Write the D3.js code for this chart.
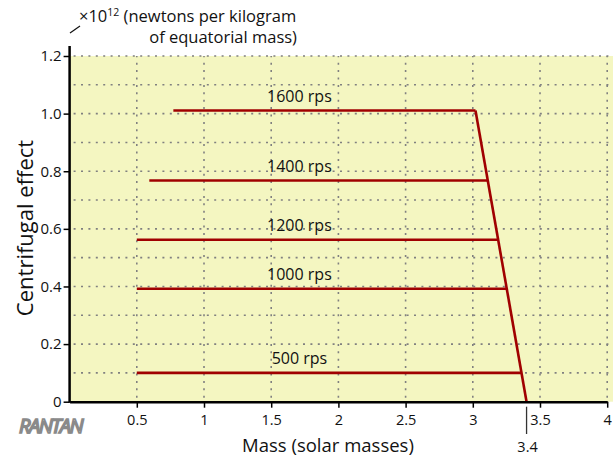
<!DOCTYPE html>
<html>
<head>
<meta charset="utf-8">
<script src="https://cdn.jsdelivr.net/npm/d3@7"></script>
<style>
  body { margin: 0; background: #fff; }
  svg text { font-family: "Open Sans", sans-serif; }
</style>
</head>
<body>
<svg width="613" height="464"></svg>
<script>
// data
const speeds = ['1600 rps', '1400 rps', '1200 rps', '1000 rps', '500 rps'];
const effect = [1.011, 0.768, 0.562, 0.392, 0.1];
const massStart = [0.772, 0.593, 0.5, 0.5, 0.5];
const limitTop = [3.02, 1.011];
const limitMass = 3.4;
const xTicks = [0.5, 1, 1.5, 2, 2.5, 3, 3.5, 4];
const yTicks = [0, 0.2, 0.4, 0.6, 0.8, 1.0, 1.2];

const svg = d3.select('svg');
const x = d3.scaleLinear().domain([0, 4]).range([69.6, 607.2]);
const y = d3.scaleLinear().domain([0, 1.2]).range([401.7, 56]);

// edge line x at a given effect
const edgeX = v => limitMass - (v / limitTop[1]) * (limitMass - limitTop[0]);

// background
svg.append('rect')
    .attr('x', x(0)).attr('y', y(1.2))
    .attr('width', 613 - x(0)).attr('height', y(0) - y(1.2))
    .attr('fill', '#f4f6c1');

// dotted grid
const grid = svg.append('g').attr('stroke', '#808080').attr('stroke-width', 1.6)
    .attr('stroke-dasharray', '2 5.4');
grid.selectAll('line.h')
    .data(d3.range(1, 13).map(d => d / 10))
    .join('line')
    .attr('x1', x(0) + 4).attr('x2', 613)
    .attr('y1', d => y(d)).attr('y2', d => y(d));
grid.selectAll('line.v')
    .data(xTicks)
    .join('line')
    .attr('y1', y(0) - 4).attr('y2', y(1.2))
    .attr('x1', d => x(d)).attr('x2', d => x(d));

// horizontal lines
const red = '#a00000';
svg.append('g').selectAll('line')
    .data(effect)
    .join('line')
    .attr('x1', (d, i) => x(massStart[i]))
    .attr('x2', d => x(edgeX(d)))
    .attr('y1', d => y(d)).attr('y2', d => y(d))
    .attr('stroke', red).attr('stroke-width', 2.6);

// limiting edge
svg.append('line')
    .attr('x1', x(limitTop[0])).attr('y1', y(limitTop[1]))
    .attr('x2', x(limitMass)).attr('y2', y(0))
    .attr('stroke', red).attr('stroke-width', 2.6);

// rps labels
svg.append('g').selectAll('text')
    .data(speeds)
    .join('text')
    .attr('x', x(1.71))
    .attr('y', (d, i) => y(effect[i]) - 8.5)
    .attr('text-anchor', 'middle')
    .attr('font-size', 16)
    .attr('fill', '#111')
    .text(d => d);

// axes
const xAxis = svg.append('g')
    .attr('transform', `translate(0, ${y(0)})`)
    .call(d3.axisBottom(x).tickValues(xTicks).tickSize(6).tickSizeOuter(0)
        .tickFormat(d3.format('')));
xAxis.select('.domain').attr('stroke', '#000').attr('stroke-width', 2.5);
xAxis.selectAll('.tick line').attr('stroke', '#000').attr('stroke-width', 1.5);
xAxis.selectAll('.tick text').attr('font-size', 14.5).attr('font-family', 'Open Sans')
    .attr('fill', '#111').attr('dy', '1.0em');

const yAxis = svg.append('g')
    .attr('transform', `translate(${x(0)}, 0)`)
    .call(d3.axisLeft(y).tickValues(yTicks).tickSize(6).tickSizeOuter(0)
        .tickFormat(d => d === 0 ? '0' : d3.format('.1f')(d)));
yAxis.select('.domain').remove();
yAxis.append('line')
    .attr('x1', 0).attr('x2', 0).attr('y1', 46).attr('y2', y(0) + 1)
    .attr('stroke', '#000').attr('stroke-width', 2.5);
yAxis.selectAll('.tick line').attr('stroke', '#000').attr('stroke-width', 1.5);
yAxis.selectAll('.tick text').attr('font-size', 15)
    .attr('font-family', 'Liberation Sans, Arial, sans-serif')
    .attr('fill', '#111').attr('x', -8);

// 3.4 marker
svg.append('line')
    .attr('x1', x(limitMass)).attr('x2', x(limitMass))
    .attr('y1', y(0) + 5).attr('y2', 434)
    .attr('stroke', '#333').attr('stroke-width', 1.3);
svg.append('text')
    .attr('x', x(limitMass) + 1).attr('y', 452)
    .attr('text-anchor', 'middle').attr('font-size', 14.5).attr('fill', '#111')
    .text('3.4');

// axis titles
svg.append('text')
    .attr('x', 328).attr('y', 452)
    .attr('text-anchor', 'middle').attr('font-size', 18.5)
    .attr('font-family', 'Liberation Sans, Arial, sans-serif').attr('fill', '#111')
    .text('Mass (solar masses)');
svg.append('text')
    .attr('transform', 'translate(33, 228) rotate(-90)')
    .attr('text-anchor', 'middle').attr('font-size', 22).attr('fill', '#111')
    .text('Centrifugal effect');

// units note
svg.append('line')
    .attr('x1', 70).attr('y1', 33).attr('x2', 80).attr('y2', 26)
    .attr('stroke', '#111').attr('stroke-width', 1.2);
const note = svg.append('text')
    .attr('x', 79).attr('y', 22).attr('font-size', 16.5).attr('fill', '#111');
note.append('tspan').text('×10');
note.append('tspan').attr('font-size', 10.5).attr('dy', -6).text('12');
note.append('tspan').attr('dy', 6).text(' (newtons per kilogram');
svg.append('text')
    .attr('x', 297).attr('y', 43).attr('text-anchor', 'end')
    .attr('font-size', 16.5).attr('fill', '#111')
    .text('of equatorial mass)');

// logo
svg.append('text')
    .attr('x', 19).attr('y', 433)
    .attr('font-size', 20).attr('font-style', 'italic')
    .attr('fill', '#fff').attr('stroke', '#8a8a8a').attr('stroke-width', 1.6)
    .attr('letter-spacing', -1.5)
    .attr('font-family', 'Liberation Sans, Arial, sans-serif')
    .text('RANTAN');
</script>
</body>
</html>
